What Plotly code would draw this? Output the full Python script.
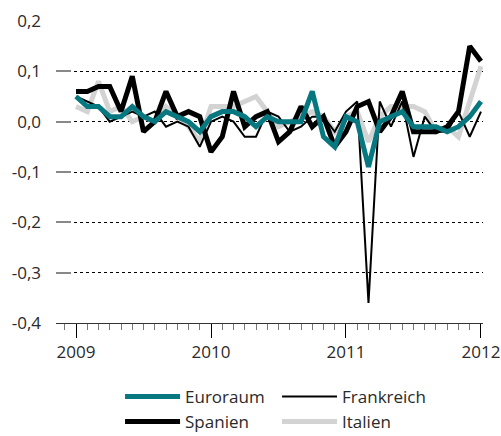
import plotly.graph_objects as go

months = list(range(37))
year_ticks = [0, 12, 24, 36]
year_labels = ["2009", "2010", "2011", "2012"]
y_ticks = [0.2, 0.1, 0.0, -0.1, -0.2, -0.3, -0.4]
y_labels = ["0,2", "0,1", "0,0", "-0,1", "-0,2", "-0,3", "-0,4"]

euroraum = [0.05, 0.03, 0.03, 0.01, 0.01, 0.03, 0.01, 0.0, 0.02, 0.01, 0.0, -0.02,
            0.01, 0.02, 0.02, 0.01, -0.01, 0.01, 0.0, 0.0, 0.0, 0.06, -0.03, -0.05,
            0.01, 0.0, -0.09, 0.0, 0.01, 0.02, -0.01, -0.01, -0.01, -0.02, -0.01, 0.01,
            0.04]
spanien = [0.06, 0.06, 0.07, 0.07, 0.02, 0.09, -0.02, 0.0, 0.06, 0.01, 0.02, 0.01,
           -0.06, -0.03, 0.06, -0.01, 0.01, 0.02, -0.04, -0.02, 0.03, -0.01, 0.01, -0.05,
           -0.02, 0.03, 0.04, -0.02, 0.01, 0.06, -0.02, -0.02, -0.02, -0.01, 0.02, 0.15,
           0.12]
frankreich = [0.05, 0.04, 0.03, 0.0, 0.01, 0.02, 0.01, 0.02, -0.01, 0.0, -0.01, -0.05,
              0.0, 0.01, 0.0, -0.03, -0.03, 0.02, 0.01, -0.02, -0.01, 0.01, 0.01, -0.02,
              0.02, 0.04, -0.36, 0.04, -0.01, 0.04, -0.07, 0.01, -0.02, -0.02, 0.02, -0.03,
              0.02]
italien = [0.03, 0.02, 0.08, 0.02, 0.03, 0.0, 0.01, 0.0, 0.03, 0.01, -0.01, -0.04,
           0.03, 0.03, 0.03, 0.04, 0.05, 0.02, -0.01, 0.0, 0.01, 0.02, 0.01, -0.02,
           0.01, 0.02, -0.04, 0.01, 0.03, 0.03, 0.03, 0.02, -0.02, -0.01, -0.03, 0.04,
           0.11]

TEAL = "#077780"
FONT = "Open Sans"
TXT = "#2a2a2a"

fig = go.Figure()
fig.add_trace(go.Scatter(x=months, y=italien, mode="lines", name="Italien",
                         line=dict(color="#d3d3d3", width=5), legendrank=4))
fig.add_trace(go.Scatter(x=months, y=frankreich, mode="lines", name="Frankreich",
                         line=dict(color="black", width=2), legendrank=2))
fig.add_trace(go.Scatter(x=months, y=spanien, mode="lines", name="Spanien",
                         line=dict(color="black", width=5), legendrank=3))
fig.add_trace(go.Scatter(x=months, y=euroraum, mode="lines", name="Euroraum",
                         line=dict(color=TEAL, width=5), legendrank=1))

fig.update_layout(
    width=501, height=436,
    margin=dict(l=56, r=18, t=21, b=113, autoexpand=False),
    paper_bgcolor="white", plot_bgcolor="white",
    font=dict(family=FONT, size=17, color=TXT),
    showlegend=True,
    legend=dict(orientation="h", x=0.15, y=-0.185, xanchor="left", yanchor="top",
                entrywidth=87, entrywidthmode="pixels", traceorder="normal",
                itemwidth=55,
                font=dict(family=FONT, size=17, color=TXT),
                tracegroupgap=0),
    xaxis=dict(range=[-1.78, 36.18], tickmode="array", tickvals=year_ticks,
               ticktext=year_labels, ticks="outside", ticklen=14, tickcolor="black",
               tickwidth=1, showgrid=False, zeroline=False, showline=True,
               linecolor="#333", linewidth=1, automargin=False,
               minor=dict(dtick=1, tick0=0, ticks="outside", ticklen=6,
                          tickcolor="#777", tickwidth=1, showgrid=False),
               tickfont=dict(family=FONT, size=17, color=TXT)),
    yaxis=dict(range=[-0.4, 0.2], tickmode="array", tickvals=y_ticks, ticktext=y_labels,
               ticks="inside", ticklen=15, tickcolor="#888", tickwidth=2,
               showgrid=True, gridcolor="black", gridwidth=1, griddash="3px,3px",
               zeroline=False, showline=False, ticklabelstandoff=14, automargin=False,
               tickfont=dict(family=FONT, size=17, color=TXT)),
)

fig.write_html("out.html", post_script="document.body.style.margin='0';",
               config={"displayModeBar": False})
